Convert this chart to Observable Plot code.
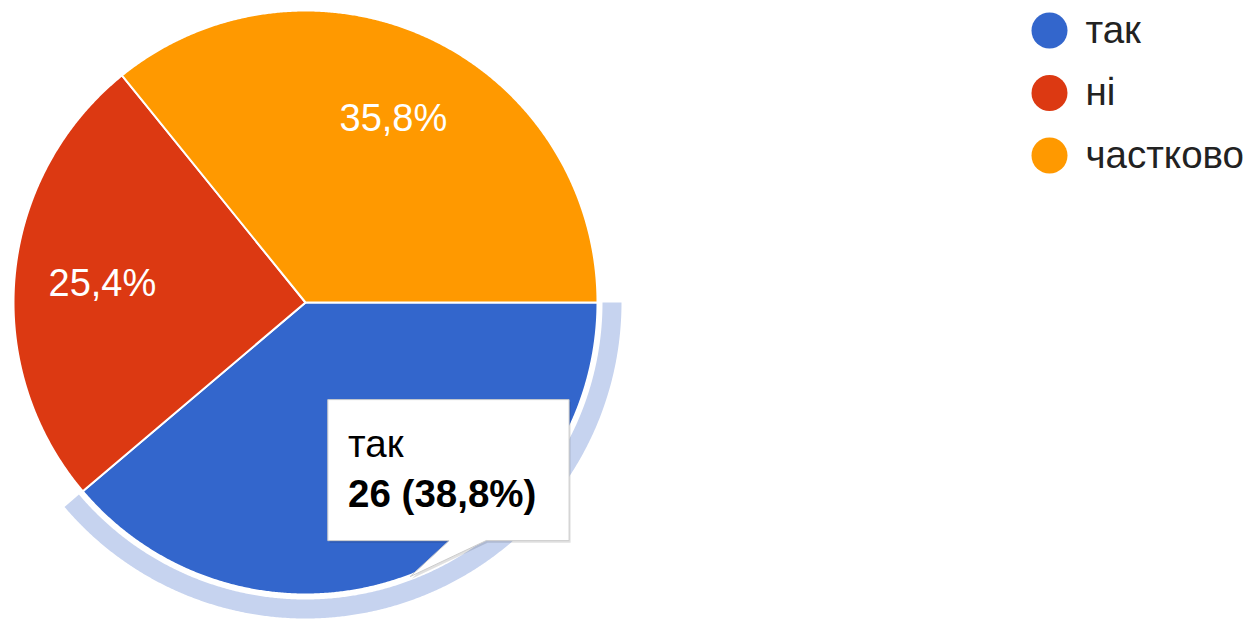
<!DOCTYPE html>
<html>
<head>
<meta charset="utf-8">
<script src="https://cdn.jsdelivr.net/npm/d3@7"></script>
<script src="https://cdn.jsdelivr.net/npm/@observablehq/plot@0.6"></script>
<style>
  html, body { margin: 0; padding: 0; background: #fff; }
  #chart svg { display: block; }
</style>
</head>
<body>
<div id="chart"></div>
<script>
// ---- data ----
const categories = ["так", "ні", "частково"];
const counts = [26, 17, 24];
const colors = ["#3366cc", "#dc3912", "#ff9900"];
const highlighted = "так";

// ---- layout ----
const W = 1255, H = 620;
const cx = 305, cy = 302, R = 292;
const ringInner = 297, ringOuter = 316;
const labelR = 204;
const FONT = "Liberation Sans, Arial, sans-serif";
const FS = 38.5;
const FS_LABEL = 38;

const total = d3.sum(counts);
const fmtPct = v => (v * 100).toFixed(1).replace(".", ",") + "%";
const rows = categories.map((c, i) => ({key: c, value: counts[i], pct: counts[i] / total}));
const arcs = d3.pie().sort(null).value(d => d.value)
  .startAngle(Math.PI / 2).endAngle(Math.PI / 2 + 2 * Math.PI)(rows);

const pt = (a, r) => [cx + r * Math.sin(a), cy - r * Math.cos(a)];

// slice polygons
const slicePts = [];
for (const a of arcs) {
  const n = Math.max(8, Math.ceil((a.endAngle - a.startAngle) / 0.005));
  const [x0, y0] = pt(0, 0);
  slicePts.push({key: a.data.key, x: x0, y: y0});
  for (let k = 0; k <= n; k++) {
    const ang = a.startAngle + (a.endAngle - a.startAngle) * k / n;
    const [x, y] = pt(ang, R);
    slicePts.push({key: a.data.key, x, y});
  }
}

// highlight ring
const hi = arcs.find(a => a.data.key === highlighted);
const ringPts = [];
{
  const n = Math.ceil((hi.endAngle - hi.startAngle) / 0.005);
  for (let k = 0; k <= n; k++) {
    const ang = hi.startAngle + (hi.endAngle - hi.startAngle) * k / n;
    const [x, y] = pt(ang, ringOuter);
    ringPts.push({x, y});
  }
  for (let k = n; k >= 0; k--) {
    const ang = hi.startAngle + (hi.endAngle - hi.startAngle) * k / n;
    const [x, y] = pt(ang, ringInner);
    ringPts.push({x, y});
  }
}

// slice labels (highlighted one is hidden by tooltip)
const labels = arcs.filter(a => a.data.key !== highlighted).map(a => {
  const m = (a.startAngle + a.endAngle) / 2;
  const [x, y] = pt(m, labelR);
  return {x, y, text: fmtPct(a.data.pct)};
});

// tooltip anchored to the outer edge of the highlighted slice
const hm = (hi.startAngle + hi.endAngle) / 2;
const [tx, ty] = pt(hm, R);
const box = {l: tx - 78, r: tx + 163, t: ty - 177, b: ty - 36};
const tipShape = [
  [box.l, box.t], [box.r, box.t], [box.r, box.b], [tx + 80, box.b],
  [tx + 4, ty], [tx + 43, box.b], [box.l, box.b]
].map(([x, y]) => ({x, y}));
const shadowShape = tipShape.map(p => ({x: p.x + 1.5, y: p.y + 2}));
const tipTitle = [{x: box.l + 20, y: ty - 120, text: hi.data.key}];
const tipValue = [{x: box.l + 20, y: ty - 70, text: `${hi.data.value} (${fmtPct(hi.data.pct)})`}];

// legend
const legend = categories.map((c, i) => ({key: c, x: 1049, y: 30 + i * 62.5}));

const chart = Plot.plot({
  width: W, height: H,
  margin: 0,
  x: {domain: [0, W], range: [0, W], axis: null},
  y: {domain: [0, H], range: [0, H], axis: null},
  color: {domain: categories, range: colors},
  style: {background: "#fff", fontFamily: FONT},
  marks: [
    Plot.line(ringPts, {x: "x", y: "y", fill: "#c6d3ef", stroke: "none", curve: "linear-closed"}),
    Plot.line(slicePts, {x: "x", y: "y", z: "key", fill: "key", stroke: "#fff", strokeWidth: 2, strokeLinejoin: "round", curve: "linear-closed"}),
    Plot.text(labels, {x: "x", y: "y", text: "text", fill: "#fff", fontSize: FS_LABEL, textAnchor: "middle", lineAnchor: "middle", fontFamily: FONT}),
    Plot.line(shadowShape, {x: "x", y: "y", fill: "#000", fillOpacity: 0.12, stroke: "none", curve: "linear-closed"}),
    Plot.line(tipShape, {x: "x", y: "y", fill: "#fff", stroke: "#cccccc", strokeWidth: 1, curve: "linear-closed"}),
    Plot.text(tipTitle, {x: "x", y: "y", text: "text", fill: "#000", fontSize: FS, textAnchor: "start", lineAnchor: "bottom", fontFamily: FONT}),
    Plot.text(tipValue, {x: "x", y: "y", text: "text", fill: "#000", fontSize: FS, fontWeight: "bold", textAnchor: "start", lineAnchor: "bottom", fontFamily: FONT}),
    Plot.dot(legend, {x: "x", y: "y", r: 18, fill: "key", stroke: "none"}),
    Plot.text(legend, {x: d => d.x + 36, y: "y", text: "key", fill: "#222", fontSize: FS, textAnchor: "start", lineAnchor: "middle", fontFamily: FONT})
  ]
});
document.getElementById("chart").appendChild(chart);
</script>
</body>
</html>
